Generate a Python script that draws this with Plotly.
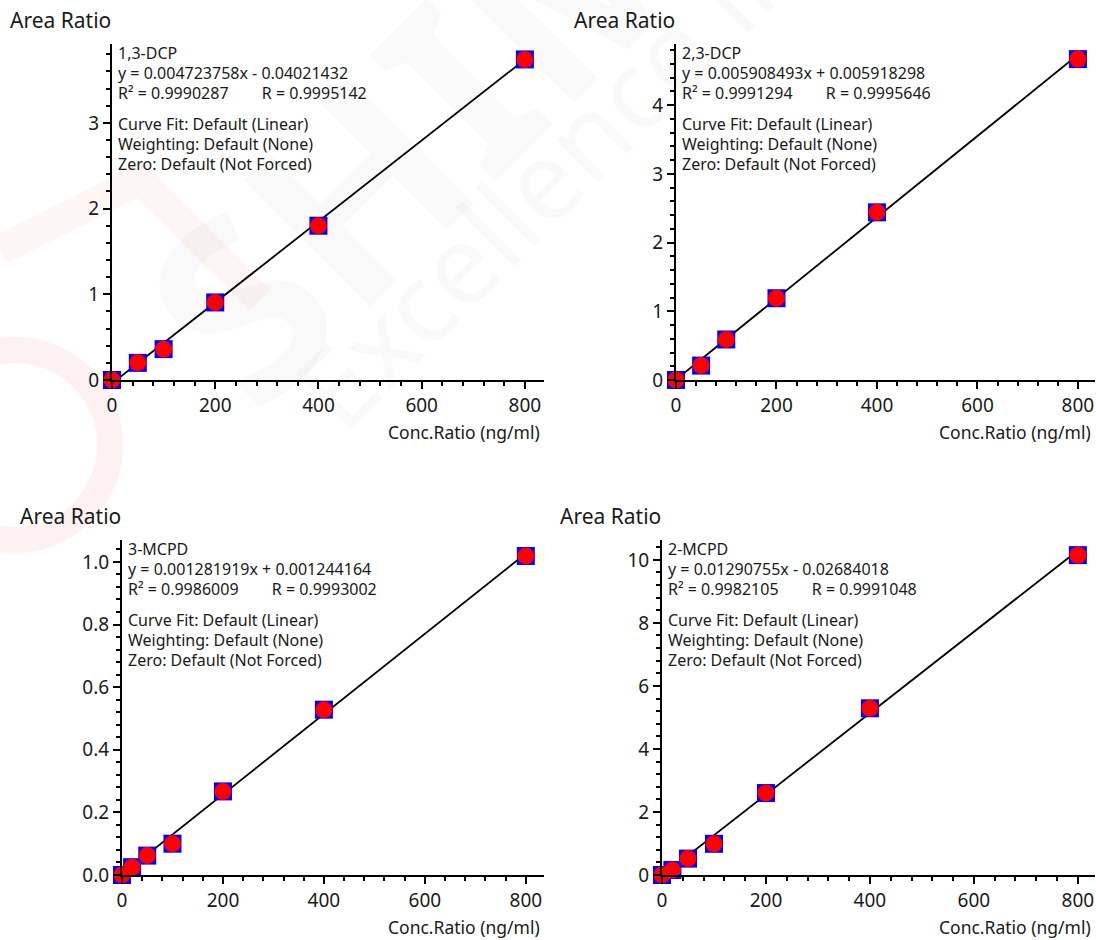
import plotly.graph_objects as go

W, H = 1096, 940

# ---------------- data ----------------
compounds = ["1,3-DCP", "2,3-DCP", "3-MCPD", "2-MCPD"]
conc_13dcp = [0, 50, 100, 200, 400, 800]
area_13dcp = [0.0, 0.20, 0.36, 0.905, 1.80, 3.74]
conc_23dcp = [0, 50, 100, 200, 400, 800]
area_23dcp = [0.0, 0.21, 0.59, 1.19, 2.44, 4.67]
conc_3mcpd = [0, 20, 50, 100, 200, 400, 800]
area_3mcpd = [0.0, 0.025, 0.062, 0.100, 0.267, 0.528, 1.019]
conc_2mcpd = [0, 20, 50, 100, 200, 400, 800]
area_2mcpd = [0.0, 0.16, 0.52, 0.99, 2.60, 5.29, 10.15]

slopes = [0.004723758, 0.005908493, 0.001281919, 0.01290755]
intercepts = [-0.04021432, 0.005918298, 0.001244164, -0.02684018]
eq_texts = ["y = 0.004723758x - 0.04021432",
            "y = 0.005908493x + 0.005918298",
            "y = 0.001281919x + 0.001244164",
            "y = 0.01290755x - 0.02684018"]
r2_texts = ["R² = 0.9990287        R = 0.9995142",
            "R² = 0.9991294        R = 0.9995646",
            "R² = 0.9986009        R = 0.9993002",
            "R² = 0.9982105        R = 0.9991048"]
info_lines = ["Curve Fit: Default (Linear)",
              "Weighting: Default (None)",
              "Zero: Default (Not Forced)"]

x_ranges = [[0, 837], [0, 834], [0, 836], [0, 833]]
y_ranges = [[0, 3.92], [0, 4.89], [0, 1.07], [0, 10.63]]
y_dticks = [1, 1, 0.2, 2]
y_formats = ["d", "d", ".1f", "d"]

concs = [conc_13dcp, conc_23dcp, conc_3mcpd, conc_2mcpd]
areas = [area_13dcp, area_23dcp, area_3mcpd, area_2mcpd]

# ---------------- layout geometry (pixels) ----------------
# (left, right, top, bottom) of each plot area
boxes = [(112, 544, 44, 380), (676, 1095, 44, 380),
         (122, 544, 540, 875), (662, 1095, 540, 875)]

FONT = "Noto Sans, Open Sans, sans-serif"
TXT = "#1a1a1a"

def px(x):
    return x / W

def py(y):
    return 1 - y / H

fig = go.Figure()
layout = dict(width=W, height=H, margin=dict(l=0, r=0, t=0, b=0, autoexpand=False),
              paper_bgcolor="white", plot_bgcolor="rgba(0,0,0,0)",
              showlegend=False, font=dict(family=FONT, color=TXT))

annotations = []
shapes = []

# faint watermark (logo ring + text)
shapes.append(dict(type="circle", xref="paper", yref="paper",
                   x0=px(-80), x1=px(110), y0=py(540), y1=py(350),
                   line=dict(color="rgba(230,60,60,0.07)", width=26), layer="below"))
shapes.append(dict(type="path", xref="paper", yref="paper",
                   path=f"M {px(0)} {py(250)} L {px(140)} {py(180)} L {px(260)} {py(300)}",
                   line=dict(color="rgba(230,60,60,0.05)", width=30), layer="below"))
annotations.append(dict(text="<b>SHIMADZU</b>", xref="paper", yref="paper",
                        x=px(665), y=py(-125), xanchor="center", yanchor="middle",
                        showarrow=False, textangle=-45,
                        font=dict(size=250, family=FONT, color="rgba(0,0,0,0.025)")))
annotations.append(dict(text="Excellence in Science", xref="paper", yref="paper",
                        x=px(693), y=py(27), xanchor="center", yanchor="middle",
                        showarrow=False, textangle=-45,
                        font=dict(size=110, family=FONT, color="rgba(0,0,0,0.025)")))

for i in range(4):
    n = i + 1
    xa = "x" if n == 1 else f"x{n}"
    ya = "y" if n == 1 else f"y{n}"
    l, r, t, b = boxes[i]
    xs = concs[i]
    ys = areas[i]
    # regression line
    lx = [min(xs), max(xs)]
    ly = [slopes[i] * v + intercepts[i] for v in lx]
    fig.add_trace(go.Scatter(x=lx, y=ly, mode="lines", xaxis=xa, yaxis=ya,
                             line=dict(color="black", width=1.8), cliponaxis=False,
                             hoverinfo="skip"))
    fig.add_trace(go.Scatter(x=xs, y=ys, mode="markers", xaxis=xa, yaxis=ya,
                             marker=dict(symbol="square", size=18, color="#0000ff",
                                         line=dict(width=0)), cliponaxis=False))
    fig.add_trace(go.Scatter(x=xs, y=ys, mode="markers", xaxis=xa, yaxis=ya,
                             marker=dict(symbol="circle", size=17, color="#ff0000",
                                         line=dict(width=0)), cliponaxis=False))

    axis_common = dict(showgrid=False, zeroline=False, showline=True, automargin=False,
                       linecolor="black", linewidth=2, ticks="outside",
                       tickcolor="black", tickwidth=2, ticklen=7,
                       tickfont=dict(size=19, family=FONT, color=TXT))
    layout[f"xaxis{'' if n == 1 else n}"] = dict(
        axis_common, domain=[px(l), px(r)], range=x_ranges[i], anchor=ya,
        dtick=200, tick0=0,
        minor=dict(ticks="outside", dtick=40, ticklen=4, tickwidth=2, tickcolor="black"))
    layout[f"yaxis{'' if n == 1 else n}"] = dict(
        axis_common, domain=[py(b), py(t)], range=y_ranges[i], anchor=xa,
        dtick=y_dticks[i], tick0=0, tickformat=y_formats[i],
        minor=dict(ticks="outside", dtick=y_dticks[i] / 5, ticklen=4, tickwidth=2,
                   tickcolor="black"))

    # axis titles
    annotations.append(dict(text="Area Ratio", xref="paper", yref="paper",
                            x=px(l + 1), y=py(t - 24), xanchor="right", yanchor="middle",
                            showarrow=False, font=dict(size=21, family=FONT, color=TXT)))
    annotations.append(dict(text="Conc.Ratio (ng/ml)", xref="paper", yref="paper",
                            x=px(r - 2), y=py(b + 52), xanchor="right", yanchor="middle",
                            showarrow=False, font=dict(size=17.5, family=FONT, color=TXT)))
    # info text block
    lines = [compounds[i], eq_texts[i], r2_texts[i]] + info_lines
    offs = [9, 29, 49, 80, 100, 120]
    for txt, o in zip(lines, offs):
        annotations.append(dict(text=txt.replace(" ", "&nbsp;"),
                                xref="paper", yref="paper",
                                x=px(l + 4), y=py(t + o), xanchor="left", yanchor="middle",
                                showarrow=False,
                                font=dict(size=16, family=FONT, color=TXT)))

layout["annotations"] = annotations
layout["shapes"] = shapes
fig.update_layout(**layout)
fig.write_html("out.html")
